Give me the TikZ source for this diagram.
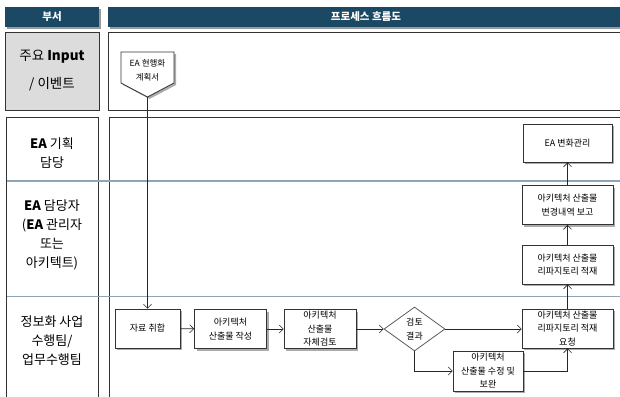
\documentclass[tikz,border=0pt]{standalone}
\usepackage{fontspec}
\setmainfont{Noto Sans CJK KR}
\usetikzlibrary{arrows.meta,shapes.geometric,shadows}
\definecolor{hdr}{HTML}{1B4862}
\definecolor{lanec}{HTML}{8FA5B5}
\definecolor{cellgray}{HTML}{DCDCDC}
\definecolor{edgec}{HTML}{333333}
\begin{document}
\begin{tikzpicture}[x=1pt,y=-1pt,
  shad/.style={drop shadow={shadow xshift=2pt,shadow yshift=-2pt,fill=black!55,opacity=0.6}},
  proc/.style={draw=edgec, fill=white, line width=0.8pt, minimum width=72pt, minimum height=39pt,
    align=center, inner sep=1pt, font=\fontsize{9}{13.5}\selectfont, shad},
  dec/.style={diamond, draw=edgec!80, fill=white, line width=0.8pt, minimum width=61pt, minimum height=44pt,
    inner sep=0pt, aspect=1.4, align=center, font=\fontsize{9}{13.5}\selectfont},
  arr/.style={draw=black!85, line width=0.6pt, -{Straight Barb[length=4pt,width=8pt]}},
  hdrbox/.style={fill=hdr},
  hdrshad/.style={fill=black!40},
  hdrtext/.style={text=white, font=\fontsize{10.5}{12}\selectfont\bfseries},
  frame/.style={draw=edgec, line width=0.9pt},
  lane/.style={draw=lanec, line width=1.4pt},
  lbl/.style={align=center, font=\fontsize{13}{19}\selectfont},
  inptext/.style={align=center, font=\fontsize{8.5}{14}\selectfont}
]
\useasboundingbox (0,0) rectangle (620,396);
\clip (0,0) rectangle (620,396);

% header
\fill[hdrshad] (7,9) rectangle (101,29);
\fill[hdrbox] (5,7) rectangle (99,27);
\node[hdrtext] (hd1) at (52,17) {부서};
\fill[hdrshad] (110,9) rectangle (630,29);
\fill[hdrbox] (108,7) rectangle (630,27);
\node[hdrtext] (hd2) at (366,17) {프로세스 흐름도};

% row 1
\draw[frame, fill=cellgray] (5,32) rectangle (99,110);
\draw[frame] (108,32) rectangle (630,110);
\node[lbl, font=\fontsize{13.5}{28}\selectfont] (l1) at (52,71) {주요 \textbf{Input}\\/ 이벤트};

% lower frames
\draw[frame] (6,117) rectangle (98.5,420);
\draw[frame] (109,117) rectangle (630,420);
\draw[lane] (7,181) -- (625,181);
\draw[lane] (7,296.5) -- (625,296.5);

\node[lbl] (l2) at (52,153) {\textbf{EA} 기획\\담당};
\node[lbl] (l3) at (52,235) {\textbf{EA} 담당자\\(\textbf{EA} 관리자\\또는\\아키텍트)};
\node[lbl] (l4) at (52,341) {정보화 사업\\수행팀/\\업무수행팀};

% input document shape
\draw[draw=edgec, fill=white, line width=0.8pt, shad] (121,52) -- (174,52) -- (174,83) -- (147.5,97) -- (121,83) -- cycle;
\node[inptext] (inp) at (147.5,70) {EA 현행화\\계획서};
\coordinate (inptip) at (147.5,97);

% process boxes
\node[proc, minimum width=65pt] (s1) at (147.5,328.5) {자료 취합};
\node[proc] (s2) at (230.5,329) {아키텍처\\산출물 작성};
\node[proc] (s3) at (320,329) {아키텍처\\산출물\\자체검토};
\node[dec] (d1) at (414.5,329) {검토\\결과};
\node[proc, minimum width=91pt] (req) at (567.5,328.5) {아키텍처 산출물\\리파지토리 적재\\요청};
\node[proc, minimum width=70pt, minimum height=40pt] (fix) at (488,371) {아키텍처\\산출물 수정 및\\보완};
\node[proc, minimum width=91pt] (store) at (567.5,264.5) {아키텍처 산출물\\리파지토리 적재};
\node[proc, minimum width=91pt] (report) at (567.5,205) {아키텍처 산출물\\변경내역 보고};
\node[proc, minimum width=89pt, minimum height=38pt] (mgmt) at (567.5,143) {EA 변화관리};

% connectors
\draw[arr] (inptip) -- (s1.north);
\draw[arr] (s1) -- (s2);
\draw[arr] (s2) -- (s3);
\draw[arr] (s3) -- (d1);
\draw[arr] (d1.east) -- (d1.east -| req.west);
\draw[arr] (d1.south) |- (fix.west);
\draw[arr] (fix.east) -| (req.south);
\draw[arr] (req) -- (store);
\draw[arr] (store) -- (report);
\draw[arr] (report) -- (mgmt);
\end{tikzpicture}
\end{document}
